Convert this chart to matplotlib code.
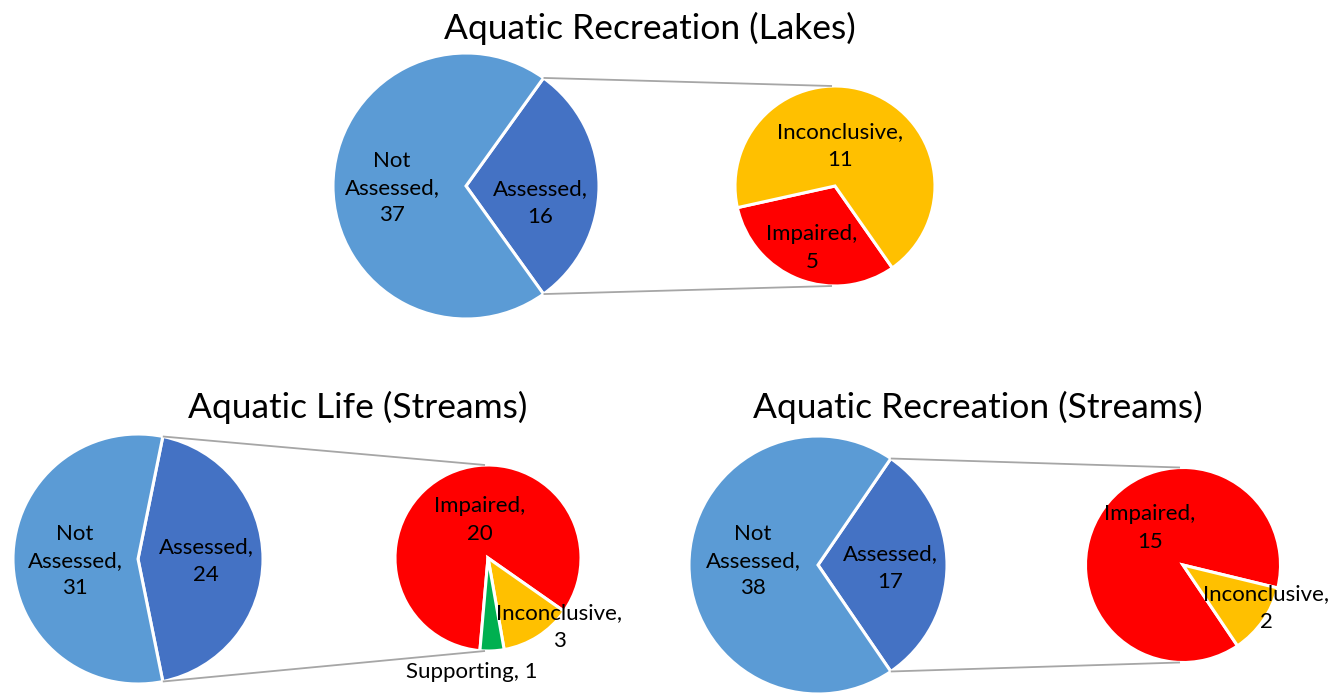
import matplotlib
matplotlib.use("Agg")
import matplotlib.pyplot as plt
import numpy as np

# ---------------- data ----------------
titles = ["Aquatic Recreation (Lakes)", "Aquatic Life (Streams)", "Aquatic Recreation (Streams)"]

main_labels = ["Assessed", "Not Assessed"]
lakes_rec_main = [16, 37]
streams_life_main = [24, 31]
streams_rec_main = [17, 38]

lakes_rec_sub_labels = ["Impaired", "Inconclusive"]
lakes_rec_sub = [5, 11]
streams_life_sub_labels = ["Impaired", "Inconclusive", "Supporting"]
streams_life_sub = [20, 3, 1]
streams_rec_sub_labels = ["Impaired", "Inconclusive"]
streams_rec_sub = [15, 2]

# ---------------- style ----------------
colors = {"Assessed": "#4472C4", "Not Assessed": "#5B9BD5",
          "Impaired": "#FF0000", "Inconclusive": "#FFC000", "Supporting": "#00B050"}
FONT = "Lato"
LABEL_FS = 16
TITLE_FS = 25.5
W, H = 1344, 694

fig = plt.figure(figsize=(W / 100, H / 100), dpi=100)
ax = fig.add_axes([0, 0, 1, 1])

def Y(y):
    return H - y

# layout: title pos, main center/radius, sub center/radius, sub start angle, label positions
layouts = [
    dict(title=(650, 28), mc=(466, 186), mr=133, sc=(835, 186), sr=100, sstart=305,
         main_lab=[(540, 203), (392, 188)], sub_lab=[(812, 248), (840, 146)]),
    dict(title=(358, 407), mc=(138, 559), mr=125, sc=(488, 558), sr=93, sstart=265,
         main_lab=[(206, 561), (75, 561)], sub_lab=[(480, 520), (559, 627), (472, 672)]),
    dict(title=(978, 407), mc=(818, 565), mr=129, sc=(1183, 565), sr=97.5, sstart=304,
         main_lab=[(890, 568), (753, 561)], sub_lab=[(1150, 528), (1266, 608)]),
]

mains = [lakes_rec_main, streams_life_main, streams_rec_main]
subs = [lakes_rec_sub, streams_life_sub, streams_rec_sub]
sub_labs = [lakes_rec_sub_labels, streams_life_sub_labels, streams_rec_sub_labels]

def fmt(name, val, single=False):
    if single:
        return f"{name}, {val}"
    if name == "Not Assessed":
        return f"Not\nAssessed,\n{val}"
    return f"{name},\n{val}"

for title, main, sub, slabs, L in zip(titles, mains, subs, sub_labs, layouts):
    mcx, mcy = L["mc"]
    scx, scy = L["sc"]
    # main pie: Assessed slice centred on the right
    frac = main[0] / sum(main)
    start = 180 * frac
    ax.pie(main, colors=[colors[n] for n in main_labels], startangle=start, counterclock=False,
           center=(mcx, Y(mcy)), radius=L["mr"], frame=True,
           wedgeprops=dict(edgecolor="white", linewidth=2.2))
    # secondary pie
    ax.pie(sub, colors=[colors[n] for n in slabs], startangle=L["sstart"], counterclock=False,
           center=(scx, Y(scy)), radius=L["sr"], frame=True,
           wedgeprops=dict(edgecolor="white", linewidth=2.2))
    # connector lines from the Assessed wedge edges to the top/bottom of the secondary pie
    a = np.deg2rad(start)
    x0 = mcx + L["mr"] * np.cos(a)
    ax.plot([x0, scx - 3], [Y(mcy - L["mr"] * np.sin(a)), Y(scy - L["sr"])],
            color="#A6A6A6", lw=1.3, solid_capstyle="butt")
    ax.plot([x0, scx - 3], [Y(mcy + L["mr"] * np.sin(a)), Y(scy + L["sr"])],
            color="#A6A6A6", lw=1.3, solid_capstyle="butt")
    # labels
    for n, v, (tx, ty) in zip(main_labels, main, L["main_lab"]):
        ax.text(tx, Y(ty), fmt(n, v), ha="center", va="center", fontsize=LABEL_FS,
                family=FONT, color="black", linespacing=1.45)
    for n, v, (tx, ty) in zip(slabs, sub, L["sub_lab"]):
        ax.text(tx, Y(ty), fmt(n, v, single=(n == "Supporting")), ha="center", va="center",
                fontsize=LABEL_FS, family=FONT, color="black", linespacing=1.45)
    ax.text(L["title"][0], Y(L["title"][1]), title, ha="center", va="center",
            fontsize=TITLE_FS, family=FONT, color="black")

ax.set_xlim(0, W)
ax.set_ylim(0, H)
ax.set_aspect("equal")
ax.axis("off")
fig.savefig("out.png", dpi=100, facecolor="white")
